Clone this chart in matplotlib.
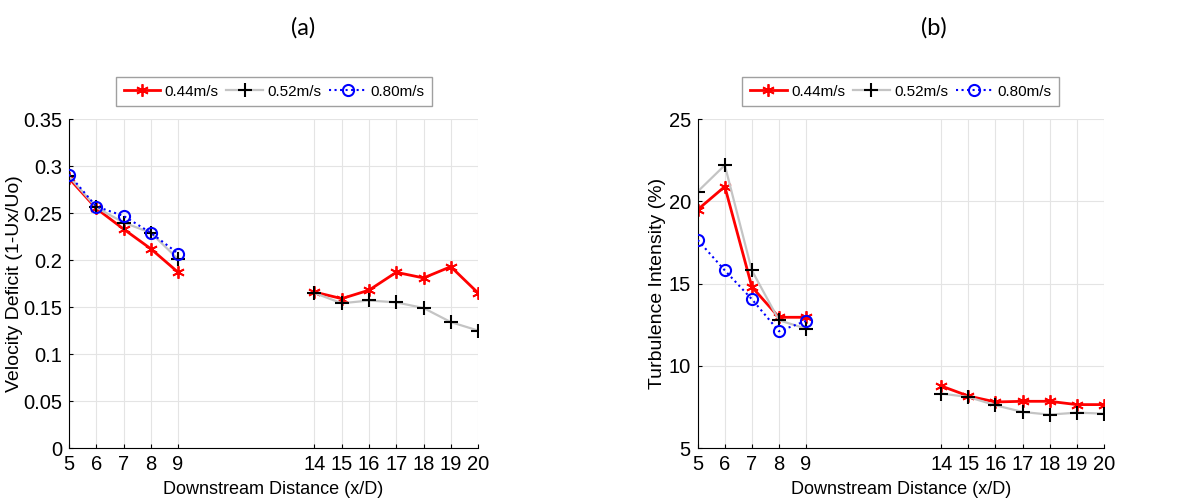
import matplotlib
matplotlib.use('Agg')
import matplotlib.pyplot as plt
import numpy as np

plt.rcParams['font.family'] = ['Liberation Sans', 'DejaVu Sans']

x_near = [5, 6, 7, 8, 9]
x_far = [14, 15, 16, 17, 18, 19, 20]
x_all = x_near + x_far

# (a) velocity deficit
vd_044 = [0.287, 0.255, 0.233, 0.212, 0.187, 0.166, 0.159, 0.168, 0.187, 0.181, 0.193, 0.165]
vd_052 = [0.289, 0.256, 0.240, 0.229, 0.201, 0.165, 0.154, 0.157, 0.155, 0.149, 0.134, 0.125]
vd_080 = [0.291, 0.257, 0.247, 0.229, 0.207]

# (b) turbulence intensity
ti_044 = [19.5, 20.9, 14.8, 12.95, 12.95, 8.77, 8.16, 7.8, 7.84, 7.84, 7.64, 7.64]
ti_052 = [20.6, 22.2, 15.8, 12.77, 12.26, 8.31, 8.1, 7.6, 7.19, 7.03, 7.15, 7.09]
ti_080 = [17.65, 15.8, 14.05, 12.1, 12.73]

labels = ['0.44m/s', '0.52m/s', '0.80m/s']
asterisk = (6, 2, 0)


def draw(ax, y44, y52, y80):
    n = len(x_near)
    for seg in (slice(0, n), slice(n, None)):
        xs = x_all[seg]
        l2, = ax.plot(xs, y52[seg], color='#c4c4c4', lw=1.6, marker='+',
                      mec='black', mew=1.5, ms=10, zorder=3)
        l1, = ax.plot(xs, y44[seg], color='red', lw=2, marker=asterisk,
                      mec='red', mfc='red', mew=1.3, ms=9, zorder=2)
    l3, = ax.plot(x_near, y80, color='blue', lw=1.5, ls=':', marker='o',
                  mfc='none', mec='blue', mew=1.5, ms=8, zorder=4)
    ax.set_xlim(5, 20)
    ax.set_xticks(x_all)
    ax.grid(True, color='#e4e4e4', lw=0.8)
    ax.set_axisbelow(True)
    ax.spines['top'].set_visible(False)
    ax.spines['right'].set_visible(False)
    ax.tick_params(direction='in', labelsize=14.5, length=3, pad=5)
    ax.set_xlabel('Downstream Distance (x/D)', fontsize=13, labelpad=5)
    return [l1, l2, l3]


fig = plt.figure(figsize=(12.03, 4.99), dpi=100)
ax1 = fig.add_axes([0.0574, 0.1022, 0.340, 0.659])
ax2 = fig.add_axes([0.580, 0.1022, 0.3375, 0.659])

h = draw(ax1, vd_044, vd_052, vd_080)
ax1.set_ylim(0, 0.35)
ax1.set_yticks([0, 0.05, 0.1, 0.15, 0.2, 0.25, 0.3, 0.35])
ax1.set_yticklabels(['0', '0.05', '0.1', '0.15', '0.2', '0.25', '0.3', '0.35'])
ax1.set_ylabel('Velocity Deficit (1-Ux/Uo)', fontsize=14, labelpad=0)

draw(ax2, ti_044, ti_052, ti_080)
ax2.set_ylim(5, 25)
ax2.set_yticks([5, 10, 15, 20, 25])
ax2.set_ylabel('Turbulence Intensity (%)', fontsize=14, labelpad=2)

for cx in (0.2278, 0.7486):
    fig.legend(h, labels, loc='center', bbox_to_anchor=(cx, 0.8166), ncol=3,
               fontsize=11, frameon=True, fancybox=False, edgecolor='#888888',
               handlelength=2.4, columnspacing=0.5, handletextpad=0.3,
               borderpad=0.5)

fig.text(0.252, 0.944, '(a)', fontsize=17, family=['Lato', 'DejaVu Sans'],
         ha='center', va='center')
fig.text(0.776, 0.944, '(b)', fontsize=17, family=['Lato', 'DejaVu Sans'],
         ha='center', va='center')

fig.savefig('out.png', dpi=100)
